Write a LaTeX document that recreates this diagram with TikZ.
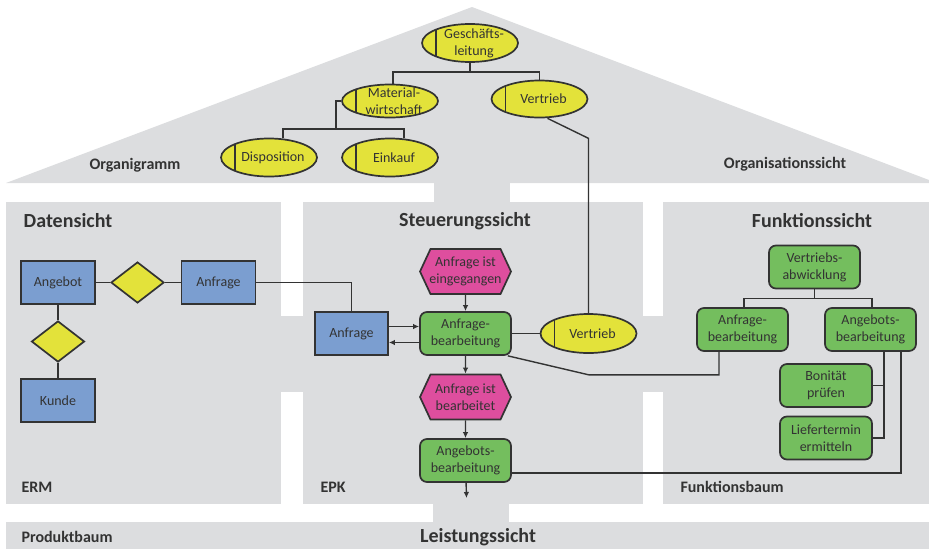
\documentclass[tikz,border=0pt]{standalone}
\usepackage{fontspec}
\setmainfont{Carlito}
\usetikzlibrary{shapes.geometric,shapes.symbols,arrows.meta}

\definecolor{viewgrey}{RGB}{220,221,223}
\definecolor{entityblue}{RGB}{123,158,208}
\definecolor{orgyellow}{RGB}{227,226,58}
\definecolor{funcgreen}{RGB}{116,190,94}
\definecolor{eventpink}{RGB}{222,78,158}
\definecolor{ink}{RGB}{51,51,51}

% room for the bar on the left of an org unit
\newcommand{\orgpad}{\hspace*{8pt}}

\tikzset{
  boxtext/.style={font=\fontsize{14}{17}\selectfont, text=ink, align=center},
  conn/.style={draw=ink, line width=1.4pt},
  outline/.style={draw=ink, line width=1.7pt},
  flow/.style={conn, -{Latex[length=6pt,width=5.5pt]}},
  viewtitle/.style={font=\fontsize{20}{24}\selectfont\bfseries, text=ink},
  viewlabel/.style={font=\fontsize{16}{19}\selectfont\bfseries, text=ink},
  orgunit/.style={boxtext, ellipse, outline, fill=orgyellow, inner sep=-6pt,
    minimum width=96, minimum height=38,
    path picture={\draw[ink, line width=1.5pt]
      ([xshift=14pt]path picture bounding box.south west) --
      ([xshift=14pt]path picture bounding box.north west);}},
  entity/.style={boxtext, rectangle, outline, fill=entityblue, minimum width=74, minimum height=43, inner sep=0},
  relship/.style={diamond, outline, fill=orgyellow, minimum width=53, minimum height=41, inner sep=0},
  func/.style={boxtext, rectangle, rounded corners=7pt, outline, fill=funcgreen, minimum width=91, minimum height=43, inner sep=0},
  event/.style={boxtext, signal, signal to=east and west, signal pointer angle=130, outline, fill=eventpink,
    minimum width=91, minimum height=45, inner xsep=-3pt, inner ysep=0}
}

\begin{document}
\begin{tikzpicture}[x=1pt, y=-1pt]
  \useasboundingbox (0,0) rectangle (929,549);

  % house
  \fill[viewgrey] (6,183) -- (472,7) -- (929,180) -- (929,183) -- cycle;
  \fill[viewgrey] (434,183) rectangle (510,202);
  \fill[viewgrey] (6,202) rectangle (281,504);
  \fill[viewgrey] (303,202) rectangle (643,504);
  \fill[viewgrey] (663,202) rectangle (929,504);
  \fill[viewgrey] (281,316) rectangle (303,392);
  \fill[viewgrey] (643,316) rectangle (663,392);
  \fill[viewgrey] (433,504) rectangle (509,522);
  \fill[viewgrey] (6,522) rectangle (929,549);

  % view names
  \node[viewlabel] (organigramm) at (135,165) {Organigramm};
  \node[viewlabel] (orgsicht) at (785,164) {Organisationssicht};
  \node[viewtitle] (datensicht) at (68,221) {Datensicht};
  \node[viewtitle] (steuersicht) at (465,221) {Steuerungssicht};
  \node[viewtitle] (funksicht) at (812,221) {Funktionssicht};
  \node[viewlabel, anchor=west] (erm) at (18,487) {ERM};
  \node[viewlabel, anchor=west] (epk) at (317,487) {EPK};
  \node[viewlabel, anchor=west] (funkbaum) at (677,487) {Funktionsbaum};
  \node[viewlabel, anchor=west] (produktbaum) at (18,537) {Produktbaum};
  \node[viewtitle] (leistsicht) at (478,537) {Leistungssicht};

  % Organigramm
  \node[orgunit] (gl) at (470,43) {\orgpad Geschäfts-\\\orgpad leitung};
  \node[orgunit, minimum height=33] (mw) at (390,101) {\orgpad Material-\\\orgpad wirtschaft};
  \node[orgunit, minimum height=37] (ve) at (539.5,99) {\orgpad Vertrieb};
  \node[orgunit] (dp) at (269,157.5) {\orgpad Disposition};
  \node[orgunit] (ek) at (390,157.5) {\orgpad Einkauf};
  \draw[conn] (gl.south) -- ++(0,9) coordinate (glfork) -| ([xshift=3pt]mw.north);
  \draw[conn] (glfork) -| (ve.north);
  \draw[conn] (mw.west) -- ++(-5,0) -- ++(0,28) coordinate (mwfork) -| ([xshift=14pt]dp.north);
  \draw[conn] (mwfork) -| ([xshift=14pt]ek.north);

  % Datensicht
  \node[entity] (angebot) at (58,282.5) {Angebot};
  \node[relship] (rel1) at (137.5,282.5) {};
  \node[entity] (anfrage) at (218.5,282.5) {Anfrage};
  \node[relship] (rel2) at (58,341.5) {};
  \node[entity] (kunde) at (58,400.5) {Kunde};
  \draw[conn] (angebot) -- (rel1) -- (anfrage);
  \draw[conn] (angebot) -- (rel2) -- (kunde);

  % Steuerungssicht
  \node[entity, minimum width=73] (anfepk) at (351.5,333.5) {Anfrage};
  \node[event] (ev1) at (465.5,271.5) {Anfrage ist\\eingegangen};
  \node[func] (fn1) at (465.5,333.5) {Anfrage-\\bearbeitung};
  \node[event] (ev2) at (465.5,397) {Anfrage ist\\bearbeitet};
  \node[func] (fn2) at (465.5,460.5) {Angebots-\\bearbeitung};
  \node[orgunit, minimum height=39] (vtepk) at (588.5,333.5) {\orgpad Vertrieb};
  \coordinate (epkout) at (466.5,498);
  \draw[flow] (ev1) -- (fn1);
  \draw[flow] (fn1) -- (ev2);
  \draw[flow] (ev2) -- (fn2);
  \draw[flow] (fn2) -- (epkout);
  \draw[flow] ([yshift=7pt]anfepk.east) -- ([yshift=7pt]fn1.west);
  \draw[flow] ([yshift=-9pt]fn1.west) -- ([yshift=-9pt]anfepk.east);
  \draw[conn] (fn1) -- (vtepk);
  \draw[conn] (anfrage.east) -| (anfepk.north);
  \draw[conn] ([xshift=8pt]ve.south) -- ++(41,20) -- (vtepk.north);

  % Funktionssicht
  \node[func] (fbva) at (814.5,267) {Vertriebs-\\abwicklung};
  \node[func] (fbanf) at (742.5,329.5) {Anfrage-\\bearbeitung};
  \node[func] (fbang) at (870.5,329.5) {Angebots-\\bearbeitung};
  \node[func, minimum width=92] (fbbp) at (826,385.5) {Bonität\\prüfen};
  \node[func, minimum width=92] (fbtm) at (826,438) {Liefertermin\\ermitteln};
  \draw[conn] (fbva.south) -- ++(0,9) coordinate (vafork) -| ([xshift=1.5pt]fbanf.north);
  \draw[conn] (vafork) -| ([xshift=1.5pt]fbang.north);
  \draw[conn] ([xshift=13.5pt]fbang.south) |- (fbbp.east);
  \draw[conn] ([xshift=13.5pt]fbang.south) |- (fbtm.east);

  % links across the views
  \draw[conn] ([xshift=-4pt]fn1.south east) -- ++(81,19) -| ([xshift=-23.5pt]fbanf.south);
  \draw[conn] ([yshift=-12.5pt]fn2.east) -| ([xshift=30.5pt]fbang.south);
\end{tikzpicture}
\end{document}
